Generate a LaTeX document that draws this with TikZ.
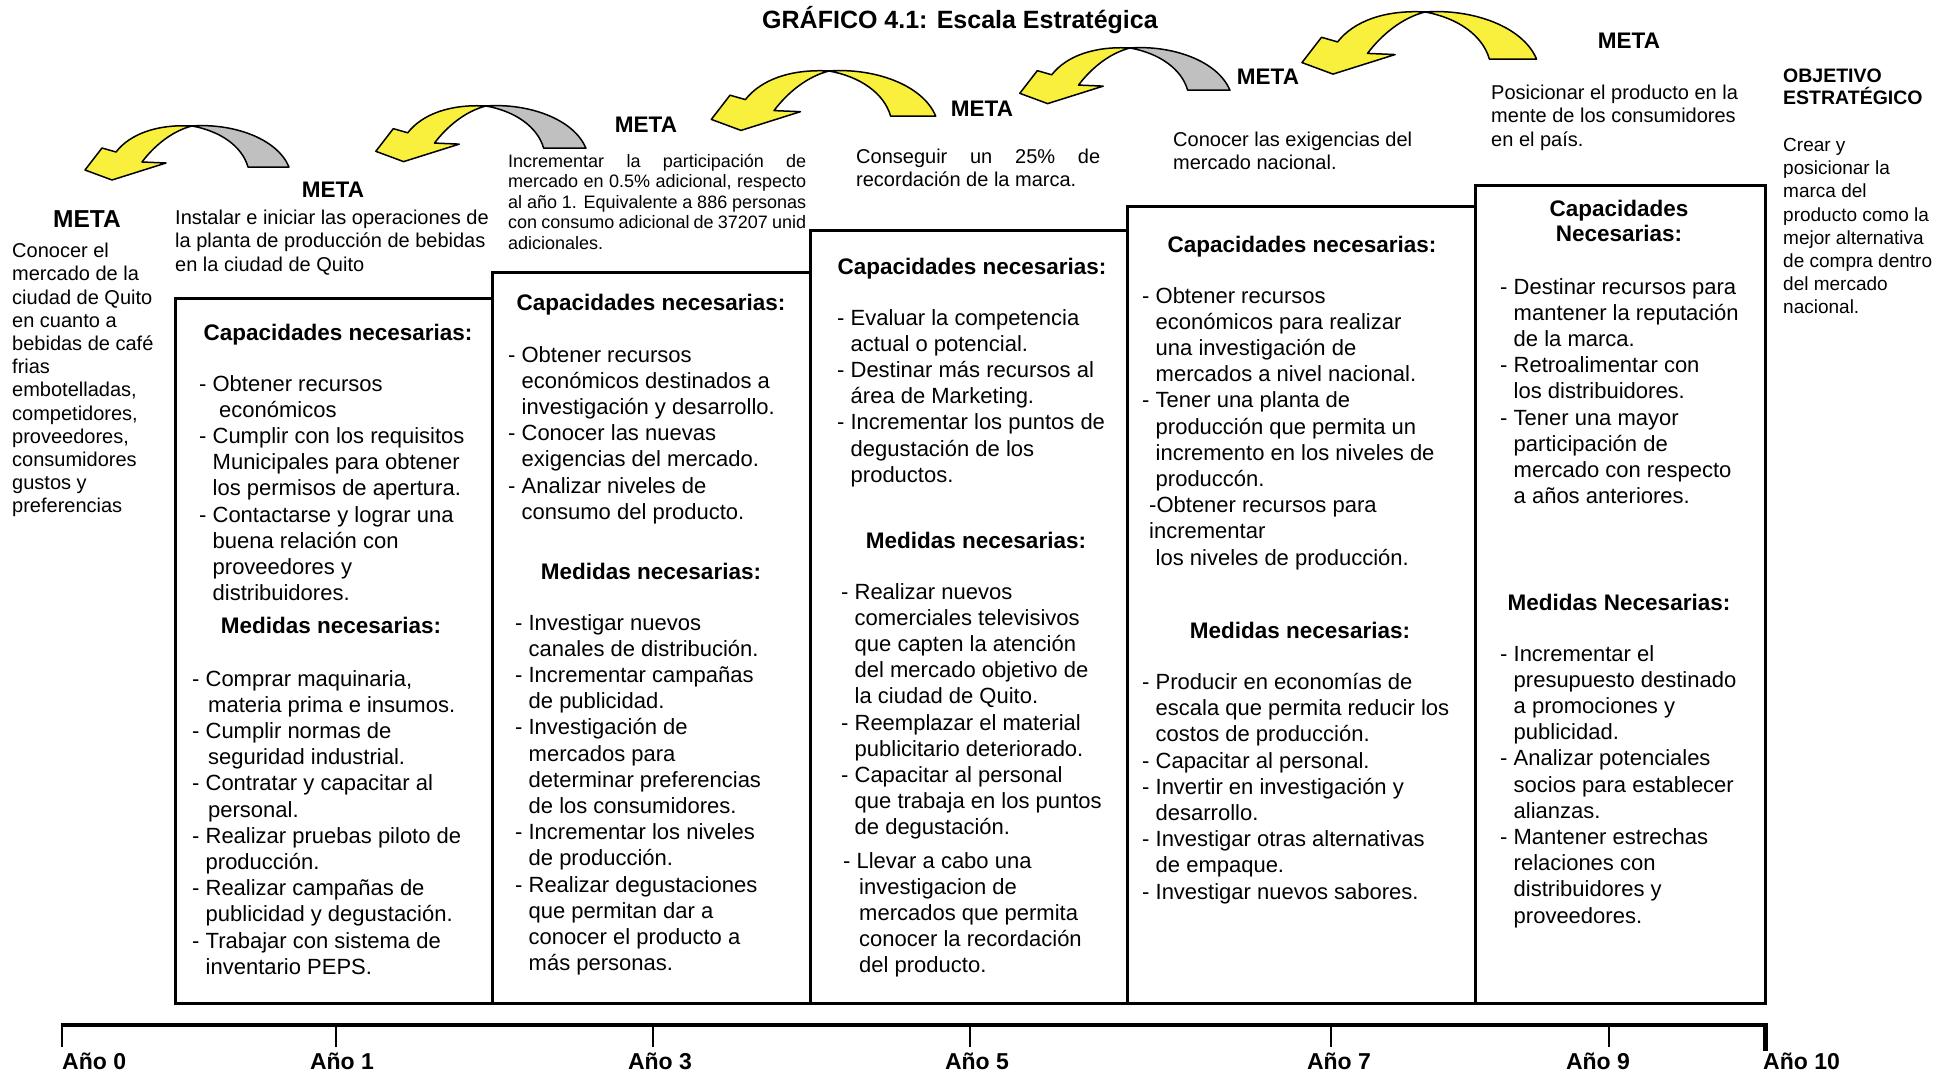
\documentclass[tikz,border=0pt]{standalone}
\usepackage{fontspec}
\setmainfont{Liberation Sans}
\definecolor{ayel}{RGB}{248,240,60}
\definecolor{agray}{RGB}{192,192,192}
\newcommand{\curvarrow}[4]{%
\begin{scope}[shift={(#1,#2)},scale=#3]
 \filldraw[fill=#4,draw=black,line width=1.5pt,line join=round] (0,0) .. controls (40,-3) and (85,12) .. (97,41) -- (56,41) .. controls (50,20) and (28,5) .. (0,0) -- cycle;
 \filldraw[fill=ayel,draw=black,line width=1.5pt,line join=round] (0,0) .. controls (-35,-2) and (-62,8) .. (-76,26) -- (-90,22) -- (-107,44) -- (-80,54) -- (-26,37) -- (-50,36) .. controls (-38,20) and (-20,5) .. (0,0) -- cycle;
\end{scope}}
\newcommand{\ind}{\hspace*{13.5pt}}
\begin{document}
\begin{tikzpicture}[x=1pt,y=-1pt,
  box/.style={draw=black,line width=3pt},
  body/.style={anchor=north west,inner sep=0pt,align=left,font=\fontsize{22}{26.2}\selectfont},
  hdr/.style={anchor=base,inner sep=0pt,font=\bfseries\fontsize{22.5}{26}\selectfont},
  meta/.style={anchor=base,inner sep=0pt,font=\bfseries\fontsize{22.5}{26}\selectfont},
  goal/.style={anchor=north west,inner sep=0pt,align=left,font=\fontsize{20}{23.2}\selectfont},
  yr/.style={inner sep=0pt,font=\bfseries\fontsize{23}{26}\selectfont},
  tick/.style={line width=2.5pt},
]
\useasboundingbox (0,0) rectangle (1942,1071);

% title
\node[anchor=base,inner sep=0pt,font=\bfseries\fontsize{25}{28}\selectfont] (title) at (960,28) {GRÁFICO 4.1: Escala Estratégica};

% arrows
\curvarrow{192}{126}{1.0}{agray}
\curvarrow{486}{106}{1.03}{agray}
\curvarrow{829}{71}{1.1}{ayel}
\curvarrow{1130}{48}{1.03}{agray}
\curvarrow{1425}{12}{1.15}{ayel}

% META labels
\node[meta,font=\bfseries\fontsize{24.5}{28}\selectfont] (m0) at (87,227) {META};
\node[meta] (m1) at (333,197) {META};
\node[meta] (m2) at (646,132) {META};
\node[meta] (m3) at (982,116) {META};
\node[meta] (m4) at (1268,84) {META};
\node[meta] (m5) at (1629,48) {META};

% META texts
\node[goal] (m0t) at (12,243) {Conocer el\\mercado de la\\ciudad de Quito\\en cuanto a\\bebidas de café\\frias\\embotelladas,\\competidores,\\proveedores,\\consumidores\\gustos y\\preferencias};
\node[goal] (m1t) at (175,210) {Instalar e iniciar las operaciones de\\la planta de producción de bebidas\\en la ciudad de Quito};
\node[anchor=north west,inner sep=0pt,align=left,font=\fontsize{18}{20.5}\selectfont] (m2t) at (508,154)
 {\makebox[298pt][s]{Incrementar la participación de}\\\makebox[298pt][s]{mercado en 0.5\% adicional, respecto}\\\makebox[298pt][s]{al año 1. Equivalente a 886 personas}\\\makebox[298pt][s]{con consumo adicional de 37207 unid}\\adicionales.};
\node[goal] (m3t) at (856,149) {\makebox[244pt][s]{Conseguir un 25\% de}\\recordación de la marca.};
\node[goal] (m4t) at (1173,132) {Conocer las exigencias del\\mercado nacional.};
\node[goal] (m5t) at (1491,85) {Posicionar el producto en la\\mente de los consumidores\\en el país.};
\node[anchor=north west,inner sep=0pt,align=left,font=\bfseries\fontsize{19.5}{22}\selectfont] (obj) at (1783,69) {OBJETIVO\\ESTRATÉGICO};
\node[goal,font=\fontsize{19}{23.2}\selectfont] (objt) at (1783,138) {Crear y\\posicionar la\\marca del\\producto como la\\mejor alternativa\\de compra dentro\\del mercado\\nacional.};

% boxes
\draw[box] (175,298) rectangle (492,1003);
\draw[box] (492,272) rectangle (810,1003);
\draw[box] (810,230) rectangle (1127,1003);
\draw[box] (1127,206) rectangle (1475,1003);
\draw[box] (1475,185) rectangle (1765,1003);

% box 1
\node[hdr] (c1) at (338,340) {Capacidades necesarias:};
\node[body] (c1l) at (199,375) {- Obtener recursos\\\hspace*{20pt}económicos\\- Cumplir con los requisitos\\\ind Municipales para obtener\\\ind los permisos de apertura.\\- Contactarse y lograr una\\\ind buena relación con\\\ind proveedores y\\\ind distribuidores.};
\node[hdr] (d1) at (331,633) {Medidas necesarias:};
\node[body] (d1l) at (192,670) {- Comprar maquinaria,\\\hspace*{16pt}materia prima e insumos.\\- Cumplir normas de\\\hspace*{16pt}seguridad industrial.\\- Contratar y capacitar al\\\hspace*{16pt}personal.\\- Realizar pruebas piloto de\\\ind producción.\\- Realizar campañas de\\\ind publicidad y degustación.\\- Trabajar con sistema de\\\ind inventario PEPS.};

% box 2
\node[hdr] (c2) at (651,310) {Capacidades necesarias:};
\node[body] (c2l) at (508,346) {- Obtener recursos\\\ind económicos destinados a\\\ind investigación y desarrollo.\\- Conocer las nuevas\\\ind exigencias del mercado.\\- Analizar niveles de\\\ind consumo del producto.};
\node[hdr] (d2) at (651,579) {Medidas necesarias:};
\node[body] (d2l) at (515,614) {- Investigar nuevos\\\ind canales de distribución.\\- Incrementar campañas\\\ind de publicidad.\\- Investigación de\\\ind mercados para\\\ind determinar preferencias\\\ind de los consumidores.\\- Incrementar los niveles\\\ind de producción.\\- Realizar degustaciones\\\ind que permitan dar a\\\ind conocer el producto a\\\ind más personas.};

% box 3
\node[hdr] (c3) at (972,274) {Capacidades necesarias:};
\node[body] (c3l) at (837,309) {- Evaluar la competencia\\\ind actual o potencial.\\- Destinar más recursos al\\\ind área de Marketing.\\- Incrementar los puntos de\\\ind degustación de los\\\ind productos.};
\node[hdr] (d3) at (976,548) {Medidas necesarias:};
\node[body] (d3l) at (841,583) {- Realizar nuevos\\\ind comerciales televisivos\\\ind que capten la atención\\\ind del mercado objetivo de\\\ind la ciudad de Quito.\\- Reemplazar el material\\\ind publicitario deteriorado.\\- Capacitar al personal\\\ind que trabaja en los puntos\\\ind de degustación.};
\node[body] (d3m) at (843,852) {- Llevar a cabo una\\\hspace*{16pt}investigacion de\\\hspace*{16pt}mercados que permita\\\hspace*{16pt}conocer la recordación\\\hspace*{16pt}del producto.};

% box 4
\node[hdr] (c4) at (1302,252) {Capacidades necesarias:};
\node[body] (c4l) at (1142,287) {- Obtener recursos\\\ind económicos para realizar\\\ind una investigación de\\\ind mercados a nivel nacional.\\- Tener una planta de\\\ind producción que permita un\\\ind incremento en los niveles de\\\ind produccón.\\\hspace*{7pt}-Obtener recursos para\\\hspace*{7pt}incrementar\\\ind los niveles de producción.};
\node[hdr] (d4) at (1300,638) {Medidas necesarias:};
\node[body] (d4l) at (1142,673) {- Producir en economías de\\\ind escala que permita reducir los\\\ind costos de producción.\\- Capacitar al personal.\\- Invertir en investigación y\\\ind desarrollo.\\- Investigar otras alternativas\\\ind de empaque.\\- Investigar nuevos sabores.};

% box 5
\node[anchor=north,inner sep=0pt,align=center,font=\bfseries\fontsize{22.5}{25}\selectfont] (c5) at (1619,200) {Capacidades\\Necesarias:};
\node[body] (c5l) at (1500,278) {- Destinar recursos para\\\ind mantener la reputación\\\ind de la marca.\\- Retroalimentar con\\\ind los distribuidores.\\- Tener una mayor\\\ind participación de\\\ind mercado con respecto\\\ind a años anteriores.};
\node[hdr] (d5) at (1619,610) {Medidas Necesarias:};
\node[body] (d5l) at (1500,645) {- Incrementar el\\\ind presupuesto destinado\\\ind a promociones y\\\ind publicidad.\\- Analizar potenciales\\\ind socios para establecer\\\ind alianzas.\\- Mantener estrechas\\\ind relaciones con\\\ind distribuidores y\\\ind proveedores.};

% timeline
\coordinate (t0) at (62,1025);
\coordinate (t1) at (336,1025);
\coordinate (t3) at (653,1025);
\coordinate (t5) at (970,1025);
\coordinate (t7) at (1331,1025);
\coordinate (t9) at (1609,1025);
\coordinate (t10) at (1765,1025);
\draw[line width=4pt] ([xshift=-1.2pt]t0) -- ([xshift=2.5pt]t10);
\foreach \t in {t0,t1,t3,t5,t7,t9} \draw[tick] (\t) -- ++(0,22);
\draw[line width=5pt] (t10) -- ++(0,26);
\node[yr,anchor=base west] (y0) at (62,1069) {Año 0};
\node[yr,anchor=base] (y1) at (342,1069) {Año 1};
\node[yr,anchor=base] (y3) at (660,1069) {Año 3};
\node[yr,anchor=base] (y5) at (977,1069) {Año 5};
\node[yr,anchor=base] (y7) at (1339,1069) {Año 7};
\node[yr,anchor=base] (y9) at (1598,1069) {Año 9};
\node[yr,anchor=base west] (y10) at (1763,1069) {Año 10};
\end{tikzpicture}
\end{document}
